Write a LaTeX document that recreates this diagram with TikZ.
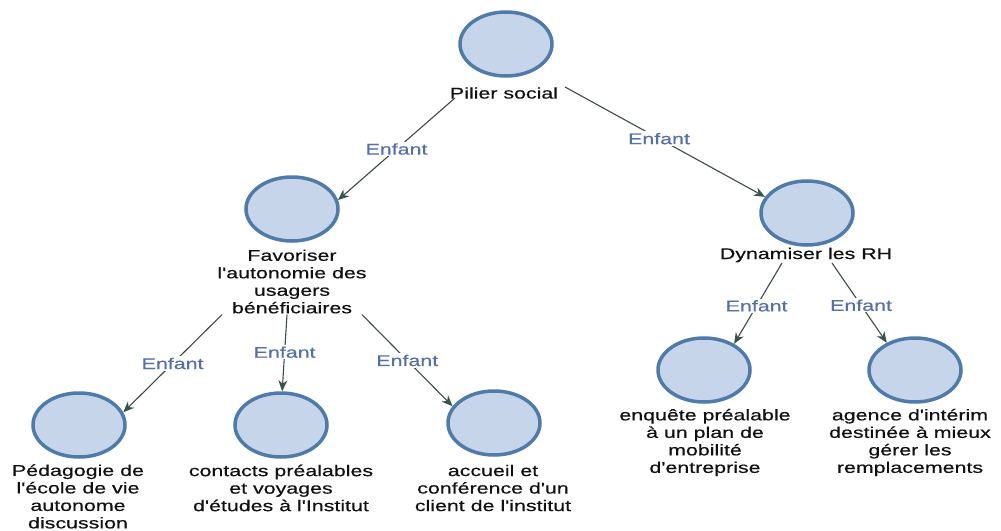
\documentclass[tikz,border=0pt]{standalone}
\usepackage{fontspec}
\setmainfont[FakeStretch=1.38,FakeBold=0.4,Ligatures=TeXOff]{Liberation Sans}
\usetikzlibrary{shapes.geometric,arrows.meta}
\definecolor{cfill}{HTML}{C7D5EA}
\definecolor{cborder}{HTML}{4F7BAB}
\definecolor{cedge}{HTML}{3F4A48}
\definecolor{carrow}{HTML}{35544A}
\definecolor{clabel}{HTML}{5470A8}
\definecolor{ctext}{HTML}{111111}
\tikzset{
  bubble/.style={ellipse, draw=cborder, fill=cfill, line width=3.5pt, inner sep=0pt, minimum width=92pt, minimum height=64pt},
  txt/.style={align=center, inner sep=1pt, text=ctext, font=\fontsize{15.5pt}{17.5pt}\selectfont},
  link/.style={draw=cedge, line width=1.1pt, -{Stealth[length=11pt,width=9pt,inset=3.5pt,fill=carrow,color=carrow]}},
  lbl/.style={fill=white, inner sep=1.5pt, text=clabel, font=\fontsize{15.5pt}{17.5pt}\selectfont}
}
\begin{document}
\begin{tikzpicture}[x=1pt,y=-1pt]
\useasboundingbox[fill=white] (0,0) rectangle (1001,530);
% circles
\node[bubble] (pil) at (506,44) {};
\node[bubble] (fav) at (292,209) {};
\node[bubble] (dyn) at (807,213) {};
\node[bubble] (ped) at (79,425) {};
\node[bubble] (con) at (281,425) {};
\node[bubble] (acc) at (494,423) {};
\node[bubble] (enq) at (704,370) {};
\node[bubble] (age) at (915,370) {};
% texts
\node[txt] (pilT) at (504,93) {Pilier social};
\node[txt] (favT) at (292,281.5) {Favoriser\\l'autonomie des\\usagers\\bénéficiaires};
\node[txt] (dynT) at (806,255) {Dynamiser les RH};
\node[txt] (pedT) at (78,496.5) {Pédagogie de\\l'école de vie\\autonome\\discussion};
\node[txt] (conT) at (281,488) {contacts préalables\\et voyages\\d'études à l'Institut};
\node[txt] (accT) at (493,488) {accueil et\\conférence d'un\\client de l'institut};
\node[txt] (enqT) at (705,442.5) {enquête préalable\\à un plan de\\mobilité\\d'entreprise};
\node[txt] (ageT) at (910,442.5) {agence d'intérim\\destinée à mieux\\gérer les\\remplacements};
% connectors
\draw[link] ([xshift=-49pt,yshift=-5pt]pilT.center) -- node[lbl,pos=0.5] (l1) {Enfant} (fav.11);
\draw[link] ([xshift=61pt,yshift=6pt]pilT.center) -- node[lbl,pos=0.47] (l2) {Enfant} (dyn.159);
\draw[link] ([xshift=-70pt]favT.south) -- node[lbl,pos=0.5] (l3) {Enfant} (ped.16);
\draw[link] ([xshift=-5pt]favT.south) -- node[lbl,pos=0.49] (l4) {Enfant} (con.88);
\draw[link] ([xshift=70pt]favT.south) -- node[lbl,pos=0.5] (l5) {Enfant} (acc.158);
\draw[link] ([xshift=-24pt,yshift=-8pt]dynT.center) -- node[lbl,pos=0.53] (l6) {Enfant} (enq.41);
\draw[link] ([xshift=26pt,yshift=-8pt]dynT.center) -- node[lbl,pos=0.53] (l7) {Enfant} (age.136);
\end{tikzpicture}
\end{document}
